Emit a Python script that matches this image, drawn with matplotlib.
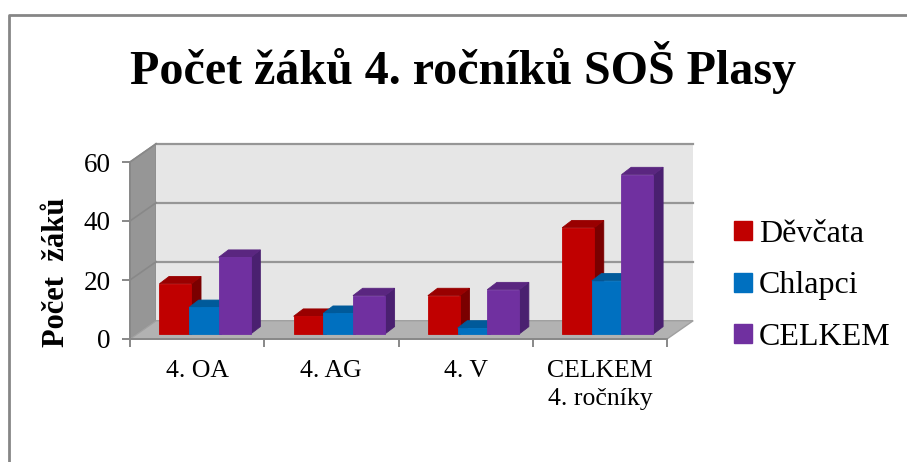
import matplotlib
matplotlib.use("Agg")
import matplotlib.pyplot as plt
from matplotlib.patches import Patch, Polygon, Rectangle

categories = ["4. OA", "4. AG", "4. V", "CELKEM\n4. ročníky"]
series_names = ["Děvčata", "Chlapci", "CELKEM"]
devcata = [17, 6, 13, 36]
chlapci = [9, 7, 2, 18]
celkem = [26, 13, 15, 54]
yticks = [0, 20, 40, 60]

plt.rcParams["font.family"] = "Liberation Serif"

W, H = 907, 462
fig = plt.figure(figsize=(W / 100, H / 100), dpi=100)
ax = fig.add_axes([130 / W, 1 - 339 / H, 537 / W, 177 / H])
ax.set_xlim(-0.5, 3.5)
ax.set_ylim(0, 60)

# depth of the fake 3d box, in data units
DX = 0.195
DY = 6.2
GRID = "#969696"

# walls
ax.add_patch(Polygon([(-0.5, 0), (-0.5 + DX, DY), (-0.5 + DX, 60 + DY), (-0.5, 60)],
                     fc="#969696", ec="#8c8c8c", lw=1, clip_on=False, zorder=1))
ax.add_patch(Rectangle((-0.5 + DX, DY), 4, 60, fc="#e6e6e6", ec="none", clip_on=False, zorder=1))
ax.add_patch(Polygon([(-0.5, 0), (-0.5 + DX, DY), (3.5 + DX, DY), (3.5, 0)],
                     fc="#b2b2b2", ec="#a0a0a0", lw=1, clip_on=False, zorder=1))
for t in yticks[1:]:
    ax.plot([-0.5 + DX, 3.5 + DX], [t + DY, t + DY], color=GRID, lw=1.6, clip_on=False, zorder=2)
    ax.plot([-0.5, -0.5 + DX], [t, t + DY], color="#888888", lw=1.2, clip_on=False, zorder=2)

# bars, one series after the other so later ones cover earlier ones
colors = [("#c00000", "#990000", "#7a0000"),
          ("#0070c0", "#005a9a", "#004f88"),
          ("#7030a0", "#5a2680", "#4a2070")]
offsets = [-0.162, 0.059, 0.28]
width = 0.238
base = 1.7
bdx = 0.072
bdy = 2.5
for vals, off, (front, top, side) in zip([devcata, chlapci, celkem], offsets, colors):
    for i, v in enumerate(vals):
        x0 = i + off - width / 2
        x1 = x0 + width
        y1 = base + v
        ax.add_patch(Polygon([(x1, base), (x1 + bdx, base + bdy), (x1 + bdx, y1 + bdy), (x1, y1)],
                             fc=side, ec=side, lw=0.6, clip_on=False, zorder=3))
        ax.add_patch(Polygon([(x0, y1), (x0 + bdx, y1 + bdy), (x1 + bdx, y1 + bdy), (x1, y1)],
                             fc=top, ec=top, lw=0.6, clip_on=False, zorder=3))
        ax.bar(x0, v, width=width, bottom=base, align="edge", color=front, edgecolor=front,
               lw=0.6, clip_on=False, zorder=3)

for s in ["top", "right"]:
    ax.spines[s].set_visible(False)
for s in ["left", "bottom"]:
    ax.spines[s].set_color("#888888")
    ax.spines[s].set_linewidth(1.4)
ax.patch.set_visible(False)

ax.set_yticks(yticks)
ax.set_xticks([-0.5, 0.5, 1.5, 2.5, 3.5])
ax.set_xticklabels([])
ax.tick_params(axis="both", color="#888888", width=1.4, length=6)
ax.tick_params(axis="y", labelsize=19.5, pad=8)
for i, c in enumerate(categories):
    ax.text(i, -7.2, c, ha="center", va="top", fontsize=18.5, linespacing=1.35)
fig.text(57 / W, 1 - 272 / H, "Počet  žáků", rotation=90, ha="center", va="center",
         fontsize=22, fontweight="bold")

fig.text(463 / W, 1 - 67 / H, "Počet žáků 4. ročníků SOŠ Plasy", ha="center", va="center",
         fontsize=34.6, fontweight="bold")

handles = [Patch(fc=c[0], ec=c[0]) for c in colors]
fig.legend(handles, series_names, loc="center left", bbox_to_anchor=(734 / W, 1 - 286 / H),
           frameon=False, fontsize=23, handlelength=0.55, handleheight=0.55,
           handletextpad=0.22, labelspacing=0.7, borderpad=0, borderaxespad=0)

# outer chart frame
fig.add_artist(plt.Line2D([9 / W, 9 / W, 907 / W], [0, 1 - 15 / H, 1 - 15 / H], color="#868686", lw=2))

fig.savefig("out.png", dpi=100)
